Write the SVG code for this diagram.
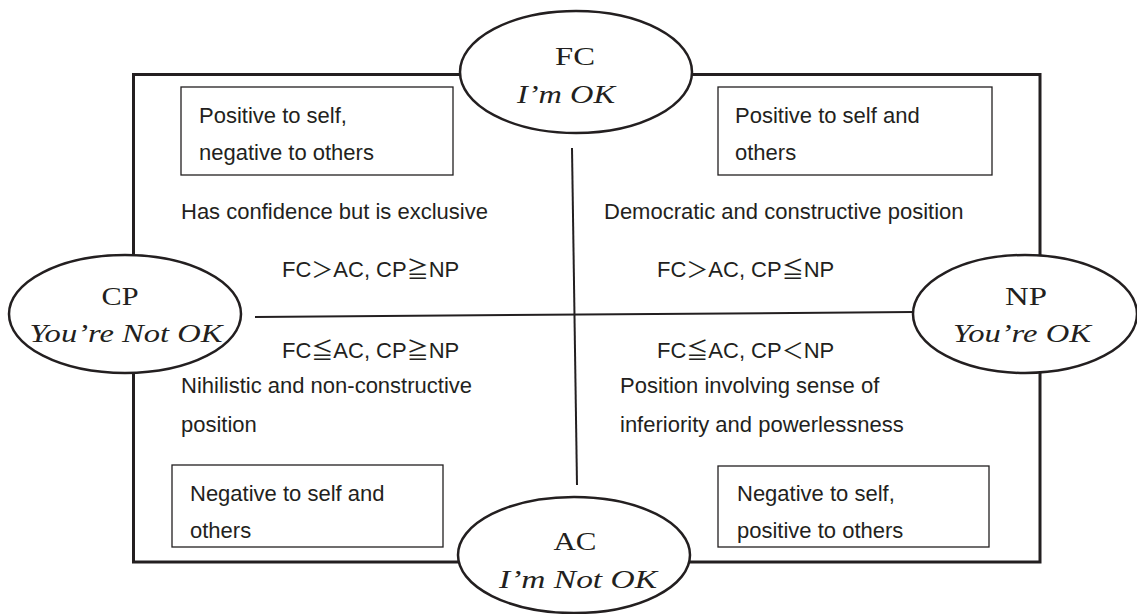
<svg xmlns="http://www.w3.org/2000/svg" width="1137" height="614" viewBox="0 0 1137 614">
<style>
.frame{fill:none;stroke:#231f20;stroke-width:3}
.box{fill:#fff;stroke:#231f20;stroke-width:1.3}
.ell{fill:#fff;stroke:#231f20;stroke-width:2.5}
.conn{stroke:#231f20;stroke-width:2;fill:none}
.s{font-family:"Liberation Sans","Noto Sans CJK JP",Arial,sans-serif;font-size:22px;fill:#231f20}
.r{font-family:"Liberation Serif","DejaVu Serif",serif;font-size:26px;fill:#231f20;text-anchor:middle}
.i{font-style:italic}
</style>
<rect class="frame" x="133.5" y="74.5" width="906.5" height="487.5"/>
<g id="connectors">
<line class="conn" x1="255" y1="317" x2="913" y2="312"/>
<line class="conn" x1="572" y1="148" x2="577" y2="485"/>
</g>
<g id="box-tl">
<rect class="box" x="181" y="87" width="272" height="88"/>
<text class="s" x="199" y="123">Positive to self,</text>
<text class="s" x="199" y="160">negative to others</text>
</g>
<g id="box-tr">
<rect class="box" x="718" y="87" width="274" height="88"/>
<text class="s" x="735" y="123">Positive to self and</text>
<text class="s" x="735" y="160">others</text>
</g>
<g id="box-bl">
<rect class="box" x="172" y="465" width="271" height="82"/>
<text class="s" x="190" y="501">Negative to self and</text>
<text class="s" x="190" y="538">others</text>
</g>
<g id="box-br">
<rect class="box" x="718" y="466" width="271" height="81"/>
<text class="s" x="737" y="501">Negative to self,</text>
<text class="s" x="737" y="538">positive to others</text>
</g>
<g id="q-tl">
<text class="s" x="181" y="219">Has confidence but is exclusive</text>
<text class="s" x="282" y="277">FC＞AC, CP≧NP</text>
</g>
<g id="q-tr">
<text class="s" x="604" y="219">Democratic and constructive position</text>
<text class="s" x="657" y="277">FC＞AC, CP≦NP</text>
</g>
<g id="q-bl">
<text class="s" x="282" y="358">FC≦AC, CP≧NP</text>
<text class="s" x="181" y="393">Nihilistic and non-constructive</text>
<text class="s" x="181" y="432">position</text>
</g>
<g id="q-br">
<text class="s" x="657" y="358">FC≦AC, CP＜NP</text>
<text class="s" x="620" y="393">Position involving sense of</text>
<text class="s" x="620" y="432">inferiority and powerlessness</text>
</g>
<g id="node-fc">
<ellipse class="ell" cx="576" cy="72" rx="116" ry="61"/>
<text class="r" x="575" y="65" textLength="40" lengthAdjust="spacingAndGlyphs">FC</text>
<text class="r i" x="566" y="103" textLength="98" lengthAdjust="spacingAndGlyphs">I’m OK</text>
</g>
<g id="node-cp">
<ellipse class="ell" cx="125" cy="314" rx="116" ry="59"/>
<text class="r" x="120" y="305" textLength="37" lengthAdjust="spacingAndGlyphs">CP</text>
<text class="r i" x="126" y="342" textLength="193" lengthAdjust="spacingAndGlyphs">You’re Not OK</text>
</g>
<g id="node-np">
<ellipse class="ell" cx="1025" cy="314" rx="112" ry="59"/>
<text class="r" x="1026" y="305" textLength="42" lengthAdjust="spacingAndGlyphs">NP</text>
<text class="r i" x="1022" y="342" textLength="138" lengthAdjust="spacingAndGlyphs">You’re OK</text>
</g>
<g id="node-ac">
<ellipse class="ell" cx="574" cy="555" rx="116" ry="58"/>
<text class="r" x="575" y="550" textLength="43" lengthAdjust="spacingAndGlyphs">AC</text>
<text class="r i" x="578" y="588" textLength="158" lengthAdjust="spacingAndGlyphs">I’m Not OK</text>
</g>
</svg>
